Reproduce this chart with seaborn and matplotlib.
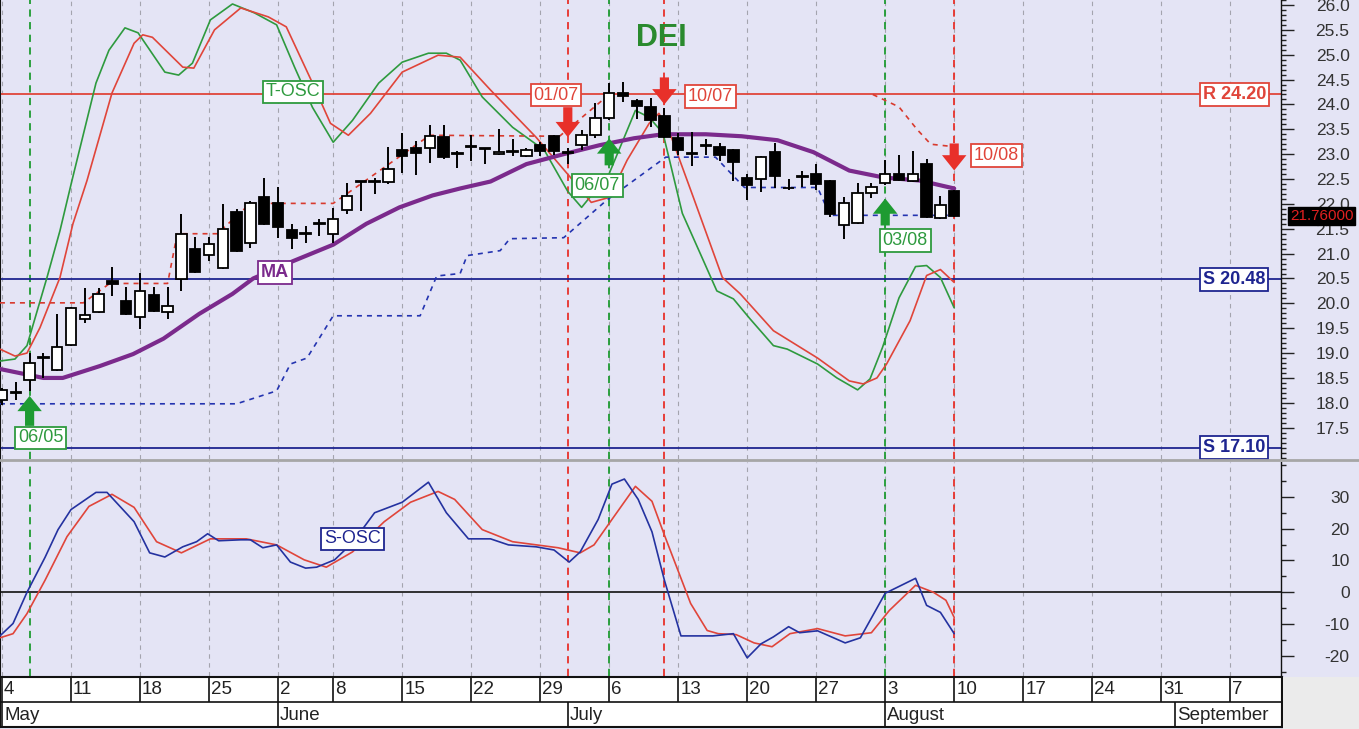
import numpy as np
import pandas as pd
import matplotlib
matplotlib.use('Agg')
import matplotlib.pyplot as plt
import matplotlib.transforms as mtransforms
from matplotlib.lines import Line2D
from matplotlib.patches import Rectangle
from matplotlib.ticker import MultipleLocator, FormatStrFormatter
import seaborn as sns

# candles, one per trading day (day 0 = Monday 4 May)
opens = [18.05, 18.20, 18.46, 18.90, 18.66, 19.17, 19.69, 19.83, 20.45, 20.05,
         19.73, 20.17, 19.83, 20.48, 21.10, 20.98, 20.72, 21.83, 21.22, 22.13,
         22.01, 21.48, 21.40, 21.60, 21.40, 21.87, 22.45, 22.45, 22.45, 23.08,
         23.12, 23.12, 23.34, 23.02, 23.14, 23.10, 23.00, 23.04, 22.96, 23.18,
         23.36, 23.02, 23.18, 23.38, 23.72, 24.23, 24.06, 23.94, 23.76, 23.32,
         23.02, 23.16, 23.14, 23.08, 22.53, 22.51, 23.04, 22.31, 22.55, 22.61,
         22.47, 21.58, 21.62, 22.21, 22.43, 22.61, 22.47, 22.81, 21.71, 22.25]
highs = [18.30, 18.42, 19.00, 19.00, 19.79, 19.93, 20.30, 20.31, 20.74, 20.33,
         20.62, 20.33, 20.33, 21.79, 21.34, 21.34, 21.99, 21.89, 22.05, 22.53,
         22.33, 21.60, 21.56, 21.70, 21.91, 22.43, 22.47, 22.53, 23.14, 23.42,
         23.26, 23.58, 23.58, 23.06, 23.38, 23.12, 23.50, 23.30, 23.12, 23.24,
         23.38, 23.12, 23.48, 24.02, 24.43, 24.45, 24.10, 24.12, 23.92, 23.42,
         23.44, 23.30, 23.22, 23.10, 22.60, 22.96, 23.22, 22.51, 22.67, 22.80,
         22.49, 22.13, 22.43, 22.43, 22.89, 22.99, 23.06, 22.91, 22.15, 22.27]
lows = [17.95, 18.05, 18.24, 18.50, 18.64, 19.15, 19.60, 19.81, 20.15, 19.77,
        19.49, 19.83, 19.69, 20.25, 20.62, 20.86, 20.70, 21.04, 21.12, 21.58,
        21.32, 21.10, 21.22, 21.36, 21.22, 21.79, 21.85, 22.19, 22.41, 22.63,
        22.59, 22.83, 22.90, 22.73, 22.87, 22.81, 22.98, 22.96, 22.94, 22.96,
        22.98, 22.81, 23.08, 23.32, 23.68, 24.04, 23.70, 23.54, 23.32, 22.98,
        22.77, 22.98, 22.86, 22.47, 22.07, 22.23, 22.31, 22.27, 22.33, 22.27,
        21.73, 21.30, 21.60, 22.11, 22.37, 22.47, 22.45, 21.71, 21.69, 21.74]
closes = [18.25, 18.20, 18.80, 18.92, 19.12, 19.91, 19.77, 20.19, 20.38, 19.79,
          20.25, 19.85, 19.95, 21.40, 20.64, 21.20, 21.50, 21.06, 22.01, 21.60,
          21.54, 21.32, 21.40, 21.60, 21.69, 22.15, 22.45, 22.45, 22.71, 22.96,
          23.02, 23.36, 22.94, 23.00, 23.14, 23.10, 23.04, 23.04, 23.08, 23.06,
          23.06, 23.02, 23.38, 23.72, 24.23, 24.17, 23.96, 23.68, 23.34, 23.08,
          23.00, 23.16, 22.98, 22.84, 22.37, 22.94, 22.57, 22.31, 22.55, 22.41,
          21.79, 22.01, 22.21, 22.33, 22.61, 22.49, 22.61, 21.73, 21.97, 21.76]
last_price = 21.76

# date axis
week_days = [0, 5, 10, 15, 20, 24, 29, 34, 39, 44, 49, 54, 59, 64, 69, 74, 79, 84, 89]
week_labels = ['4', '11', '18', '25', '2', '8', '15', '22', '29', '6', '13', '20',
               '27', '3', '10', '17', '24', '31', '7']
month_days = [0, 20, 41, 64, 85]
month_labels = ['May', 'June', 'July', 'August', 'September']

# moving average
ma_days = [-0.15, 3.0, 4.4, 7.1, 9.5, 11.7, 14.3, 16.7, 18.2, 21.1, 24.0, 26.4, 28.8,
           31.2, 33.2, 35.4, 38.0, 40.7, 43.3, 45.8, 47.9, 51.0, 53.6, 56.2, 58.8,
           61.4, 63.9, 66.5, 69.0]
ma_vals = [18.68, 18.50, 18.50, 18.74, 18.98, 19.29, 19.79, 20.19, 20.50, 20.85, 21.18,
           21.60, 21.93, 22.17, 22.31, 22.45, 22.80, 23.00, 23.18, 23.32, 23.40, 23.40,
           23.36, 23.28, 23.04, 22.67, 22.53, 22.47, 22.31]

# T-OSC, drawn on the price scale
tosc_fast_days = [-0.15, 0.94, 1.81, 3.26, 4.2, 5.07, 6.81, 7.75, 8.91, 9.86, 11.8, 12.8,
                  13.8, 15.1, 16.7, 18.3, 19.9, 21.2, 22.5, 24.0, 25.4, 27.3, 29.0, 30.9,
                  32.2, 33.2, 34.8, 37.0, 39.3, 41.0, 42.0, 44.0, 45.9, 46.9, 47.9, 49.3,
                  50.6, 51.8, 53.0, 54.2, 55.9, 56.9, 59.1, 60.5, 62.0, 62.9, 63.8, 65.0,
                  66.2, 67.0, 68.0, 69.0]
tosc_fast_vals = [18.84, 18.88, 19.15, 20.52, 21.46, 22.47, 24.43, 25.09, 25.54, 25.44,
                  24.65, 24.59, 24.83, 25.70, 26.02, 25.84, 25.60, 24.75, 23.94, 23.24,
                  23.68, 24.43, 24.85, 25.03, 25.03, 24.89, 24.15, 23.54, 23.08, 22.25,
                  21.93, 22.61, 23.88, 23.74, 23.42, 21.81, 21.00, 20.25, 20.09, 19.69,
                  19.15, 19.08, 18.78, 18.50, 18.26, 18.48, 19.11, 20.11, 20.74, 20.76,
                  20.52, 19.91]
tosc_slow_days = [-0.15, 0.94, 1.81, 2.75, 4.2, 5.14, 6.16, 7.97, 9.57, 10.2, 10.9, 13.1,
                  13.9, 15.4, 17.3, 19.3, 20.6, 22.5, 23.8, 25.1, 26.7, 29.0, 31.6, 33.2,
                  35.4, 38.7, 41.2, 42.7, 44.0, 45.3, 46.9, 47.6, 48.4, 50.1, 52.2, 53.5,
                  55.9, 59.1, 61.4, 62.4, 63.4, 64.1, 65.8, 67.0, 68.0, 69.0]
tosc_slow_vals = [19.08, 18.94, 19.00, 19.51, 20.52, 21.60, 22.47, 24.23, 25.23, 25.40,
                  25.35, 24.75, 24.73, 25.50, 25.94, 25.76, 25.56, 24.43, 23.62, 23.38,
                  23.82, 24.65, 24.99, 24.95, 24.29, 23.34, 22.53, 22.03, 22.13, 22.88,
                  23.62, 23.82, 23.42, 22.13, 20.52, 20.19, 19.45, 18.90, 18.44, 18.38,
                  18.50, 18.78, 19.65, 20.56, 20.68, 20.42]

# trailing resistance (red dashed, two pieces) and support (blue dashed)
res_a_days = [-0.15, 5.9, 7.8, 12.0, 12.7, 15.6, 18.0, 24.0, 31.0, 40.4, 44.0]
res_a_vals = [20.01, 20.01, 20.40, 20.40, 21.40, 21.40, 22.01, 22.01, 23.38, 23.36, 24.20]
res_b_days = [63.1, 65.0, 66.3, 67.3, 69.0]
res_b_vals = [24.20, 23.95, 23.50, 23.20, 23.15]
sup_days = [-0.15, 17.0, 19.9, 20.9, 22.1, 24.0, 30.3, 31.5, 33.2, 33.7, 36.1, 36.8,
            40.7, 43.8, 48.1, 51.7, 53.8, 59.1, 60.0, 69.0]
sup_vals = [17.98, 17.98, 18.24, 18.78, 18.90, 19.75, 19.75, 20.55, 20.60, 20.96, 21.06,
            21.30, 21.32, 22.07, 22.94, 22.94, 22.33, 22.33, 21.77, 21.77]

# S-OSC (lower panel)
sosc_fast_days = [-0.15, 0.8, 1.81, 3.12, 4.06, 5.0, 6.81, 7.61, 9.57, 10.7, 11.8, 13.1,
                  14.1, 14.9, 15.7, 17.3, 18.0, 18.9, 19.9, 20.9, 22.0, 22.8, 24.1, 25.4,
                  27.0, 29.0, 30.9, 32.2, 33.8, 35.4, 36.7, 38.7, 40.0, 41.1, 41.9, 43.2,
                  44.2, 45.1, 46.1, 47.1, 48.0, 49.2, 50.2, 51.5, 53.0, 54.0, 55.0, 55.9,
                  57.0, 57.8, 59.1, 61.1, 62.2, 64.0, 66.2, 67.0, 68.0, 69.0]
sosc_fast_vals = [-13.7, -9.8, 0.0, 11.0, 19.7, 26.0, 31.4, 31.4, 22.2, 12.4, 11.1, 14.3,
                  15.9, 18.4, 16.2, 16.5, 16.5, 14.0, 14.9, 9.5, 7.6, 7.9, 10.2, 15.6,
                  25.0, 28.3, 34.6, 25.0, 16.8, 16.8, 14.9, 14.3, 13.3, 9.5, 12.7, 22.9,
                  34.0, 35.6, 29.2, 19.0, 3.8, -13.7, -13.7, -13.7, -13.0, -20.6, -16.2,
                  -14.0, -10.8, -12.7, -12.1, -15.9, -14.3, -0.3, 4.4, -4.1, -6.3, -13.0]
sosc_slow_days = [-0.15, 0.8, 1.81, 3.12, 4.71, 6.3, 7.97, 9.57, 11.2, 13.0, 15.1, 17.7,
                  19.9, 21.9, 23.5, 25.4, 27.7, 29.6, 31.6, 32.8, 34.8, 37.0, 40.3, 41.9,
                  42.9, 44.2, 45.9, 47.1, 48.0, 49.9, 51.1, 51.9, 53.2, 54.5, 55.8, 57.1,
                  59.1, 61.1, 63.0, 64.3, 66.2, 67.5, 68.4, 69.0]
sosc_slow_vals = [-14.3, -13.0, -6.7, 3.8, 17.5, 27.0, 30.8, 26.7, 15.9, 12.4, 16.8, 16.8,
                  14.9, 10.2, 7.9, 12.7, 22.2, 28.3, 31.7, 29.2, 19.7, 15.9, 14.0, 12.4,
                  14.9, 22.9, 33.3, 28.6, 18.0, -3.5, -12.0, -13.0, -13.3, -15.9, -17.1,
                  -13.0, -11.4, -13.7, -12.7, -5.7, 2.2, 0.0, -2.5, -7.9]

# horizontal levels
levels = [24.20, 20.48, 17.10]
level_names = ['R 24.20', 'S 20.48', 'S 17.10']

# signals
buy_days = [2, 44, 64]
buy_labels = ['06/05', '06/07', '03/08']
sell_days = [41, 48, 69]
sell_labels = ['01/07', '10/07', '10/08']

# colours
BG = '#E4E4F5'
GREEN = '#2E9A3E'
RED = '#E0453A'
NAVY = '#1E2590'
PURPLE = '#7B2A8C'
ARROW_G = '#1E9B32'
ARROW_R = '#E8302A'

sns.set_theme(style='white')
plt.rcParams['font.family'] = ['Liberation Sans', 'DejaVu Sans']
plt.rcParams['axes.unicode_minus'] = False

W, H = 1359, 729
PX_DAY = 13.8
X0 = -0.145
X1 = X0 + 1281 / PX_DAY

fig = plt.figure(figsize=(W / 100, H / 100), dpi=100, facecolor=BG)
ax1 = fig.add_axes([0, 1 - 459 / H, 1281 / W, 459 / H])
ax2 = fig.add_axes([0, 1 - 676 / H, 1281 / W, (676 - 462) / H])
ax3 = fig.add_axes([0, 1 - 727 / H, 1282 / W, (727 - 677) / H])

df = pd.DataFrame({'day': np.arange(len(opens)), 'open': opens, 'high': highs,
                   'low': lows, 'close': closes})
df['up'] = df['close'] >= df['open']

for ax in (ax1, ax2):
    ax.set_facecolor(BG)
    ax.set_xlim(X0, X1)
    ax.set_xticks([])
    for d in week_days:
        ax.axvline(d, color='#A4A4AE', lw=0.8, ls=(0, (4, 4)), zorder=1)
    for d in buy_days:
        ax.axvline(d, color=ARROW_G, lw=1.3, ls=(0, (4, 3)), zorder=2)
    for d in sell_days:
        ax.axvline(d, color=ARROW_R, lw=1.3, ls=(0, (4, 3)), zorder=2)
    ax.yaxis.tick_right()
    ax.tick_params(axis='y', which='major', direction='out', length=9.4, width=1,
                   pad=40, labelsize=12.5, labelcolor='#333333', color='#222222')
    ax.tick_params(axis='y', which='minor', direction='out', length=3.6, width=1,
                   color='#222222', right=True)
    ax.spines['left'].set_color('#111111')
    ax.spines['left'].set_linewidth(1.5)
    ax.spines['right'].set_color('#111111')
    ax.spines['right'].set_linewidth(1.0)
    ax.spines['top'].set_visible(False)
    ax.spines['bottom'].set_visible(False)

# ---- main panel ----
ax1.set_ylim(16.87, 26.10)
ax1.set_yticks(np.arange(17.5, 26.01, 0.5))
ax1.yaxis.set_minor_locator(MultipleLocator(0.1))
ax1.yaxis.set_major_formatter(FormatStrFormatter('%.1f'))

for lv, name in zip(levels, level_names):
    c = RED if name.startswith('R') else NAVY
    ax1.axhline(lv, color=c, lw=1.3, zorder=2)
    ax1.text(89.3, lv, name, ha='center', va='center', fontsize=13, fontweight='bold',
             color=c, zorder=9,
             bbox=dict(boxstyle='square,pad=0.15', fc='white', ec=c, lw=1.3))

sns.lineplot(x=tosc_fast_days, y=tosc_fast_vals, ax=ax1, color=GREEN, lw=1.2,
             sort=False, estimator=None, zorder=3)
sns.lineplot(x=tosc_slow_days, y=tosc_slow_vals, ax=ax1, color=RED, lw=1.2,
             sort=False, estimator=None, zorder=3)
for xs, ys in ((res_a_days, res_a_vals), (res_b_days, res_b_vals)):
    sns.lineplot(x=xs, y=ys, ax=ax1, color='#D83A2E', lw=1.2, linestyle=(0, (3, 3)),
                 sort=False, estimator=None, zorder=3)
sns.lineplot(x=sup_days, y=sup_vals, ax=ax1, color='#2434B0', lw=1.2,
             linestyle=(0, (3, 3)), sort=False, estimator=None, zorder=3)
sns.lineplot(x=ma_days, y=ma_vals, ax=ax1, color=PURPLE, lw=3, sort=False,
             estimator=None, zorder=4)

# candles
ax1.vlines(df['day'], df['low'], df['high'], color='black', lw=1.4, zorder=5)
body_low = df[['open', 'close']].min(axis=1)
body_h = (df['close'] - df['open']).abs().clip(lower=0.015)
ax1.bar(df['day'], body_h, bottom=body_low, width=0.75,
        color=np.where(df['up'], 'white', 'black'), edgecolor='black', lw=1.3, zorder=6)

# signal arrows: (pixel gap from candle, arrow length, label dx, label dy)
buy_layout = [(5, 30, 11, -47), (18, 27, -12, -65), (13, 27, 20, -55)]
sell_layout = [(11, 30, -12, 53), (4, 27, 46, 12), (20, 27, 42, 35)]
arrow_style = 'simple,head_width=1.6,head_length=1.0,tail_width=0.6'
for d, lab, (gap, ln, dx, dy) in zip(buy_days, buy_labels, buy_layout):
    low = df.loc[d, 'low']
    ax1.annotate('', xy=(d, low), xytext=(0, -(gap + ln)), textcoords='offset pixels',
                 arrowprops=dict(arrowstyle=arrow_style, fc=ARROW_G, ec='none',
                                 mutation_scale=11, shrinkA=0, shrinkB=gap * 0.72),
                 zorder=8)
    ax1.annotate(lab, xy=(d, low), xytext=(dx, dy), textcoords='offset pixels',
                 ha='center', va='center', fontsize=13, color=GREEN, zorder=9,
                 bbox=dict(boxstyle='square,pad=0.15', fc='white', ec=GREEN, lw=1.3))
for d, lab, (gap, ln, dx, dy) in zip(sell_days, sell_labels, sell_layout):
    high = df.loc[d, 'high']
    ax1.annotate('', xy=(d, high), xytext=(0, gap + ln), textcoords='offset pixels',
                 arrowprops=dict(arrowstyle=arrow_style, fc=ARROW_R, ec='none',
                                 mutation_scale=11, shrinkA=0, shrinkB=gap * 0.72),
                 zorder=8)
    ax1.annotate(lab, xy=(d, high), xytext=(dx, dy), textcoords='offset pixels',
                 ha='center', va='center', fontsize=13, color=RED, zorder=9,
                 bbox=dict(boxstyle='square,pad=0.15', fc='white', ec=RED, lw=1.3))

ax1.text(21.1, 24.25, 'T-OSC', ha='center', va='center', fontsize=13, color=GREEN,
         zorder=9, bbox=dict(boxstyle='square,pad=0.15', fc='white', ec=GREEN, lw=1.3))
ax1.text(19.8, 20.62, 'MA', ha='center', va='center', fontsize=13, color=PURPLE,
         fontweight='bold', zorder=9,
         bbox=dict(boxstyle='square,pad=0.15', fc='white', ec=PURPLE, lw=1.3))
ax1.text(47.8, 25.33, 'DEI', ha='center', va='center', fontsize=22, fontweight='bold',
         color='#2A8A2E', zorder=9)

trans = mtransforms.blended_transform_factory(ax1.transAxes, ax1.transData)
ax1.text(1.007, last_price, f'{last_price:.5f}', transform=trans, ha='left', va='center',
         fontsize=11, color='#E02020', zorder=10, clip_on=False,
         bbox=dict(boxstyle='square,pad=0.12', fc='black', ec='black'))

# ---- S-OSC panel ----
ax2.set_ylim(-26.3, 40.95)
ax2.set_yticks([-20, -10, 0, 10, 20, 30])
ax2.yaxis.set_minor_locator(MultipleLocator(5))
ax2.axhline(0, color='#222222', lw=1.3, zorder=2)
sns.lineplot(x=sosc_fast_days, y=sosc_fast_vals, ax=ax2, color='#2432A0', lw=1.2,
             sort=False, estimator=None, zorder=4)
sns.lineplot(x=sosc_slow_days, y=sosc_slow_vals, ax=ax2, color=RED, lw=1.2,
             sort=False, estimator=None, zorder=3)
ax2.text(25.4, 16.8, 'S-OSC', ha='center', va='center', fontsize=13, color=NAVY, zorder=9,
         bbox=dict(boxstyle='square,pad=0.15', fc='white', ec=NAVY, lw=1.3))

# right-align the value labels like the reference
for ax in (ax1, ax2):
    for lbl in ax.get_yticklabels():
        lbl.set_horizontalalignment('right')

# ---- date axis ----
ax3.set_facecolor('white')
ax3.set_xlim(X0, X0 + 1282 / PX_DAY)
ax3.set_ylim(0, 2)
ax3.set_xticks([])
ax3.set_yticks([])
for s in ax3.spines.values():
    s.set_color('#111111')
    s.set_linewidth(1.5)
ax3.axhline(1, color='#111111', lw=1.2)
for d, lab in zip(week_days, week_labels):
    ax3.vlines(d, 1, 2, color='#111111', lw=1.2)
    ax3.text(d + 0.15, 1.5, lab, ha='left', va='center', fontsize=13.5, color='#222222')
for d, lab in zip(month_days, month_labels):
    ax3.vlines(d, 0, 1, color='#111111', lw=1.2)
    ax3.text(d + 0.15, 0.48, lab, ha='left', va='center', fontsize=13.5, color='#222222')

# frame pieces outside the axes
fig.add_artist(Line2D([0, 1], [1 - 460.5 / H, 1 - 460.5 / H], transform=fig.transFigure,
                      color='#A6A6A6', lw=2))
fig.add_artist(Rectangle((1283 / W, 0), 1 - 1283 / W, 1 - 677 / H,
                         transform=fig.transFigure, fc='#EBEBEB', ec='none'))

fig.savefig('out.png', dpi=100, facecolor=fig.get_facecolor())
